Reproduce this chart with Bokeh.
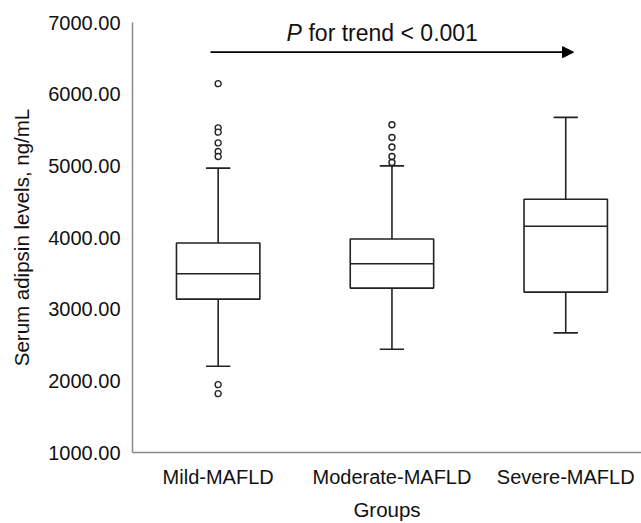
from bokeh.plotting import figure
from bokeh.models import Range1d, FixedTicker, NumeralTickFormatter, Label, Arrow, NormalHead, ColumnDataSource
from bokeh.embed import file_html
from bokeh.resources import INLINE

# ---- data ----
groups = ["Mild-MAFLD", "Moderate-MAFLD", "Severe-MAFLD"]
positions = [1, 2, 3]
q1 = [3140, 3294, 3238]
median = [3494, 3634, 4157]
q3 = [3923, 3979, 4534]
whisker_low = [2203, 2440, 2669]
whisker_high = [4968, 5000, 5676]
outliers_mild = [6147, 5530, 5470, 5320, 5200, 5130, 1947, 1821]
outliers_moderate = [5573, 5396, 5262, 5130, 5046]
outliers_severe = []
y_ticks = [1000, 2000, 3000, 4000, 5000, 6000, 7000]
trend_text_italic = "P"
trend_text_rest = "for trend < 0.001"

FONT = "Liberation Sans"
BOX_W = 0.48
CAP_W = 0.14
LINE = "#222222"

p = figure(width=641, height=523, output_backend="svg", toolbar_location=None,
           x_range=Range1d(0.507, 3.436), y_range=Range1d(1000, 7000),
           min_border_left=132, min_border_right=0, min_border_top=22, min_border_bottom=71)
p.outline_line_color = None
p.grid.visible = False
p.background_fill_color = "white"
p.border_fill_color = "white"

src = ColumnDataSource(dict(x=positions, q1=q1, med=median, q3=q3, lo=whisker_low, hi=whisker_high,
                            xl=[x - BOX_W / 2 for x in positions], xr=[x + BOX_W / 2 for x in positions],
                            cl=[x - CAP_W / 2 for x in positions], cr=[x + CAP_W / 2 for x in positions]))

# whiskers
p.segment(x0="x", y0="q3", x1="x", y1="hi", source=src, line_color=LINE, line_width=1.6)
p.segment(x0="x", y0="q1", x1="x", y1="lo", source=src, line_color=LINE, line_width=1.6)
p.segment(x0="cl", y0="hi", x1="cr", y1="hi", source=src, line_color=LINE, line_width=1.6)
p.segment(x0="cl", y0="lo", x1="cr", y1="lo", source=src, line_color=LINE, line_width=1.6)
# boxes
p.quad(left="xl", right="xr", bottom="q1", top="q3", source=src, fill_color="white",
       line_color=LINE, line_width=1.6)
p.segment(x0="xl", y0="med", x1="xr", y1="med", source=src, line_color=LINE, line_width=1.6)

# outliers
ox, oy = [], []
for pos, vals in zip(positions, [outliers_mild, outliers_moderate, outliers_severe]):
    ox += [pos] * len(vals)
    oy += vals
p.scatter(ox, oy, marker="circle", size=6, fill_color="white", line_color=LINE, line_width=1.4)

# axes
p.yaxis.ticker = FixedTicker(ticks=y_ticks)
p.yaxis.formatter = NumeralTickFormatter(format="0.00")
p.xaxis.ticker = FixedTicker(ticks=positions)
p.xaxis.major_label_overrides = {pos: g for pos, g in zip(positions, groups)}
for ax in (p.xaxis, p.yaxis):
    ax.major_tick_line_color = None
    ax.minor_tick_line_color = None
    ax.axis_line_color = "#888888"
    ax.axis_line_width = 1.5
    ax.major_label_text_font = FONT
    ax.major_label_text_font_size = "20px"
    ax.major_label_text_color = "#111111"
    ax.axis_label_text_font = FONT
    ax.axis_label_text_font_size = "20.5px"
    ax.axis_label_text_font_style = "normal"
    ax.axis_label_text_color = "#111111"
p.yaxis.axis_label = "Serum adipsin levels, ng/mL"
p.xaxis.axis_label = "Groups"
p.yaxis.major_label_standoff = 6
p.yaxis.axis_label_standoff = 12
p.xaxis.major_label_standoff = 7
p.xaxis.axis_label_standoff = 7

# trend annotation
p.add_layout(Arrow(end=NormalHead(size=11, fill_color="black", line_color="black"),
                   x_start=0.956, x_end=3.045, y_start=6586, y_end=6586,
                   line_color="black", line_width=1.6))
p.add_layout(Label(x=1.393, y=6855, text=trend_text_italic, text_font=FONT, text_font_size="23px",
                   text_font_style="italic", text_baseline="alphabetic", text_color="#111111"))
p.add_layout(Label(x=1.393, y=6855, x_offset=22, text=trend_text_rest, text_font=FONT, text_font_size="23px",
                   text_baseline="alphabetic", text_color="#111111"))

open("out.html", "w").write(file_html(p, INLINE))
